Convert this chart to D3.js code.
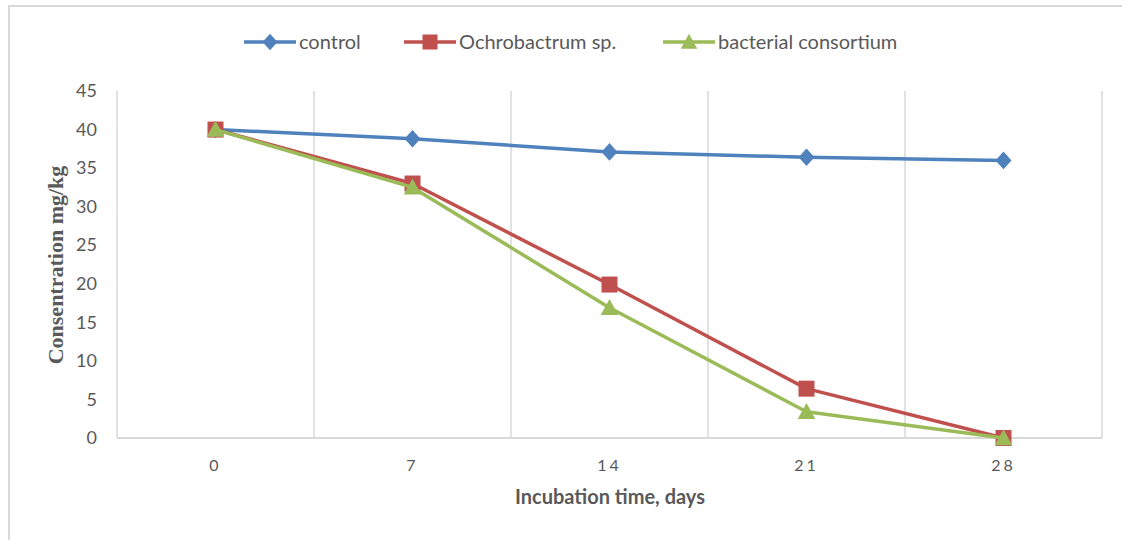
<!DOCTYPE html>
<html><head><meta charset="utf-8">
<script src="https://cdn.jsdelivr.net/npm/d3@7/dist/d3.min.js"></script>
<style>body{margin:0;background:#fff;}svg{display:block;}</style>
</head><body>
<svg id="chart" width="1122" height="540"></svg>
<script>
const days = ["0","7","14","21","28"];
const control = [40, 38.8, 37.1, 36.4, 36.0];
const ochrobactrum = [40, 33.0, 19.9, 6.4, 0];
const consortium = [40, 32.5, 16.9, 3.4, 0];
const yTicks = [0,5,10,15,20,25,30,35,40,45];
const seriesNames = ["control","Ochrobactrum sp.","bacterial consortium"];
const seriesColors = ["#4f81bd","#c0504d","#9bbb59"];
const seriesShapes = ["diamond","square","triangle"];

const series = [control, ochrobactrum, consortium].map((v,i)=>({name:seriesNames[i], values:v, color:seriesColors[i], shape:seriesShapes[i]}));

const svg = d3.select("#chart");
const pLeft=117, pRight=1102, pTop=91, pBottom=438;

// outer border (left, top)
svg.append("line").attr("x1",9).attr("x2",9).attr("y1",6).attr("y2",540).attr("stroke","#d9d9d9").attr("stroke-width",2);
svg.append("line").attr("x1",8).attr("x2",1122).attr("y1",6).attr("y2",6).attr("stroke","#d9d9d9").attr("stroke-width",2);

const x = d3.scaleBand().domain(days).range([pLeft,pRight]);
const y = d3.scaleLinear().domain([0,45]).range([pBottom,pTop]);

// vertical gridlines at band boundaries
const bounds = days.map(d=>x(d)).concat([pRight]);
svg.append("g").selectAll("line").data(bounds).join("line")
  .attr("x1",d=>d).attr("x2",d=>d).attr("y1",pTop).attr("y2",pBottom)
  .attr("stroke","#d9d9d9").attr("stroke-width",1.5);
svg.append("line").attr("x1",pLeft).attr("x2",pRight).attr("y1",pBottom).attr("y2",pBottom)
  .attr("stroke","#d9d9d9").attr("stroke-width",2);

// y axis labels
const yAxis = d3.axisLeft(y).tickValues(yTicks).tickSize(0).tickPadding(0);
const gy = svg.append("g").attr("transform",`translate(97,0)`).call(yAxis);
gy.select(".domain").remove();
gy.selectAll("text").attr("font-family","Lato, 'Open Sans', sans-serif").attr("font-size",18).attr("fill","#595959");

// x axis labels
const xAxis = d3.axisBottom(x).tickSize(0).tickPadding(0);
const gx = svg.append("g").attr("transform",`translate(0,${pBottom+22})`).call(xAxis);
gx.select(".domain").remove();
gx.selectAll("text").attr("font-family","Lato, 'Open Sans', sans-serif").attr("font-size",16).attr("fill","#595959").attr("letter-spacing","3px").attr("dy","0.71em");

// axis titles
svg.append("text").attr("x",610).attr("y",504).attr("text-anchor","middle")
  .attr("font-family","Lato, 'Open Sans', sans-serif").attr("font-weight","bold").attr("font-size",20).attr("fill","#595959")
  .text("Incubation time, days");
svg.append("text").attr("transform","translate(63,265) rotate(-90)").attr("text-anchor","middle")
  .attr("font-family","'Liberation Serif', 'DejaVu Serif', serif").attr("font-weight","bold").attr("font-size",22).attr("fill","#595959")
  .text("Consentration mg/kg");

function marker(g, shape, color, s){
  if(shape==="diamond"){
    g.append("path").attr("d",`M0,${-s*0.55}L${s*0.5},0L0,${s*0.55}L${-s*0.5},0Z`).attr("fill",color);
  } else if(shape==="square"){
    g.append("rect").attr("x",-s/2).attr("y",-s/2).attr("width",s).attr("height",s).attr("fill",color);
  } else {
    g.append("path").attr("d",`M0,${-s*0.55}L${s*0.55},${s*0.45}L${-s*0.55},${s*0.45}Z`).attr("fill",color);
  }
}

const line = d3.line().x((d,i)=>x(days[i])+x.bandwidth()/2).y(d=>y(d));
series.forEach(s=>{
  svg.append("path").datum(s.values).attr("d",line).attr("fill","none")
    .attr("stroke",s.color).attr("stroke-width",3.5).attr("stroke-linejoin","round");
  s.values.forEach((v,i)=>{
    const g = svg.append("g").attr("transform",`translate(${x(days[i])+x.bandwidth()/2},${y(v)})`);
    marker(g, s.shape, s.color, 16);
  });
});

// legend
const legendX = [244, 404, 663];
series.forEach((s,i)=>{
  const g = svg.append("g").attr("transform",`translate(${legendX[i]},42)`);
  g.append("line").attr("x1",0).attr("x2",52).attr("stroke",s.color).attr("stroke-width",3.5);
  const m = g.append("g").attr("transform","translate(26,0)");
  marker(m, s.shape, s.color, 15);
  g.append("text").attr("x",55).attr("y",0).attr("dy","0.35em")
    .attr("font-family","Lato, 'Open Sans', sans-serif").attr("font-size",20).attr("fill","#595959").text(s.name);
});
</script>
</body></html>
